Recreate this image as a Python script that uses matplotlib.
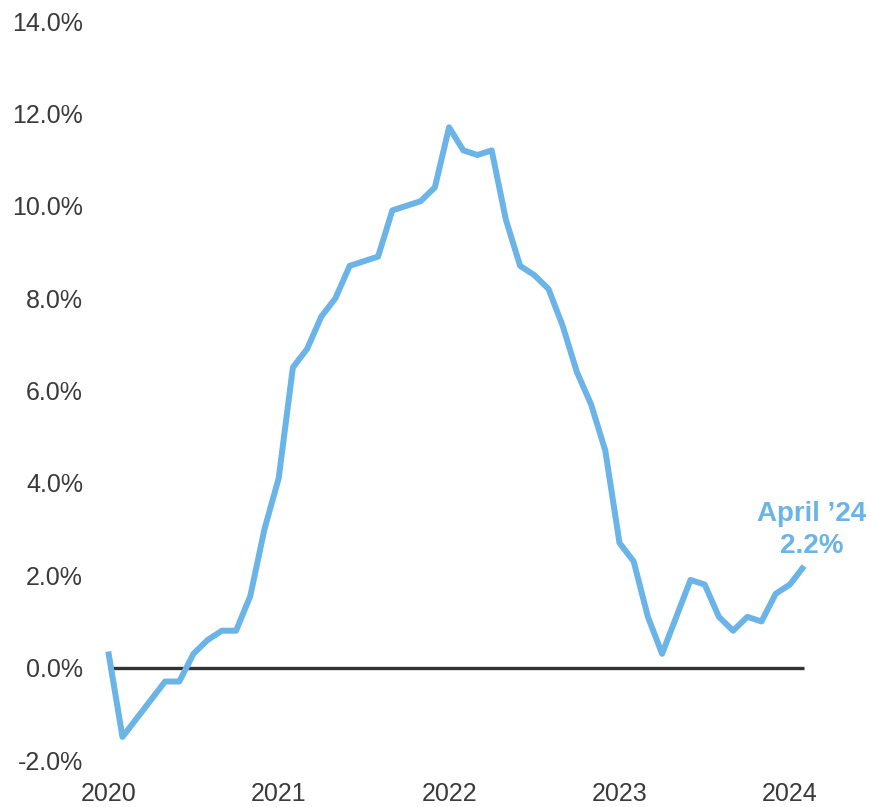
import numpy as np
import matplotlib
matplotlib.use("Agg")
import matplotlib.pyplot as plt

plt.rcParams['font.family'] = ['Liberation Sans', 'DejaVu Sans']

# monthly year-over-year change, %
values = [0.35, -1.5, -1.1, -0.7, -0.3, -0.3, 0.3, 0.6, 0.8, 0.8,
          1.55, 3.0, 4.1, 6.5, 6.9, 7.6, 8.0, 8.7, 8.8, 8.9,
          9.9, 10.0, 10.1, 10.4, 11.7, 11.2, 11.1, 11.2, 9.7, 8.7,
          8.5, 8.2, 7.4, 6.4, 5.7, 4.7, 2.7, 2.3, 1.1, 0.3,
          1.1, 1.9, 1.8, 1.1, 0.8, 1.1, 1.0, 1.6, 1.8, 2.2]
year_labels = ['2020', '2021', '2022', '2023', '2024']
y_ticks = [-2, 0, 2, 4, 6, 8, 10, 12, 14]

blue = '#6AB4E8'
dark = '#333333'

x = np.arange(len(values))

fig = plt.figure(figsize=(8.71, 8.07), dpi=100)
ax = fig.add_axes([0.108, 0.0582, 0.8478, 0.9157])

ax.hlines(0, x[0], x[-1], color=dark, linewidth=2.4, zorder=2)
ax.plot(x, values, color=blue, linewidth=4.3, solid_joinstyle='round',
        solid_capstyle='butt', zorder=3)

ax.text(x[-1] + 0.55, 3.33, 'April \u201924', color=blue, fontsize=20,
        fontweight='bold', ha='center', va='center')
ax.text(x[-1] + 0.55, 2.64, '2.2%', color=blue, fontsize=20,
        fontweight='bold', ha='center', va='center')

ax.set_xlim(-1, 51)
ax.set_ylim(-2, 14)
ax.set_yticks(y_ticks)
ax.set_yticklabels([f'{v:.1f}%' for v in y_ticks])
ax.set_xticks(x[::12])
ax.set_xticklabels(year_labels)
ax.tick_params(axis='y', length=0, pad=8, labelsize=18, labelcolor='#3a3a3a')
ax.tick_params(axis='x', length=0, pad=16, labelsize=18, labelcolor='#3a3a3a')
for s in ax.spines.values():
    s.set_visible(False)

fig.savefig('out.png', dpi=100)
